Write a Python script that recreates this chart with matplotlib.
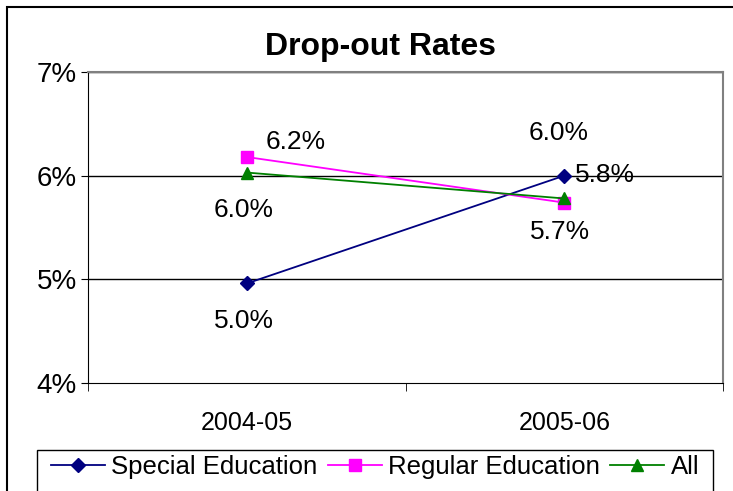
import numpy as np
import matplotlib
matplotlib.use("Agg")
import matplotlib.pyplot as plt
from matplotlib.patches import Rectangle
from matplotlib.ticker import FuncFormatter

plt.rcParams['font.family'] = ['Liberation Sans', 'DejaVu Sans']

# data
years = ["2004-05", "2005-06"]
special = [4.96, 6.00]
regular = [6.18, 5.74]
all_students = [6.03, 5.78]

series = [
    ("Special Education", special, "#000080", "D", [(-2, -27), (-4, 31)]),
    ("Regular Education", regular, "#FF00FF", "s", [(35, 11), (-3, -21)]),
    ("All", all_students, "#008000", "^", [(-2, -27), (29, 17)]),
]

fig = plt.figure(figsize=(7.33, 4.91), dpi=100)
ax = fig.add_axes([88/733, 1 - 383/491, (723 - 88)/733, (383 - 72)/491])

x = np.arange(len(years))
for name, vals, col, mk, offs in series:
    ms = 7 if mk == "D" else 8
    ax.plot(x, vals, color=col, marker=mk, markersize=ms, lw=1.3, label=name,
            zorder=3)
    for xi, v, off in zip(x, vals, offs):
        ax.annotate(f"{v:.1f}%", (xi, v), xytext=off, textcoords="offset points",
                    ha="center", va="center", fontsize=19, zorder=4)

ax.set_xlim(-0.5, 1.5)
ax.set_ylim(4, 7)
ax.set_yticks([4, 5, 6, 7])
ax.yaxis.set_major_formatter(FuncFormatter(lambda v, p: f"{v:.0f}%"))
ax.set_xticks(x)
ax.set_xticklabels(years)
ax.set_xticks([-0.5, 0.5, 1.5], minor=True)
ax.tick_params(axis="x", which="major", length=0, labelsize=18, pad=20)
ax.tick_params(axis="x", which="minor", length=6, direction="out")
ax.tick_params(axis="y", length=5, direction="out", labelsize=20, pad=3)

for v in [5, 6, 7]:
    ax.axhline(v, color="black", lw=1, zorder=1)
for s in ["top", "right"]:
    ax.spines[s].set_color("#808080")
    ax.spines[s].set_linewidth(1.5)
for s in ["left", "bottom"]:
    ax.spines[s].set_color("black")

fig.text(380/733, 1 - 47/491, "Drop-out Rates", ha="center", va="center",
         fontsize=23, fontweight="bold")

leg = fig.legend(loc="center", bbox_to_anchor=(375/733, 1 - 467/491),
                 ncol=3, fontsize=18.5, frameon=False,
                 handlelength=2.1, handletextpad=0.25,
                 columnspacing=0.4, borderpad=0, borderaxespad=0)

# legend box runs off the bottom of the image, as in the original
fig.patches.append(Rectangle((37/733, -0.1), (713 - 37)/733, 0.1 + 1 - 450/491,
                             transform=fig.transFigure, fill=False,
                             edgecolor="black", lw=1))

fig.patches.append(Rectangle((7/733, -0.1), 1.2, 1.1 - 7/491,
                             transform=fig.transFigure, fill=False,
                             edgecolor="black", lw=1.5))

fig.savefig("out.png", dpi=100)
